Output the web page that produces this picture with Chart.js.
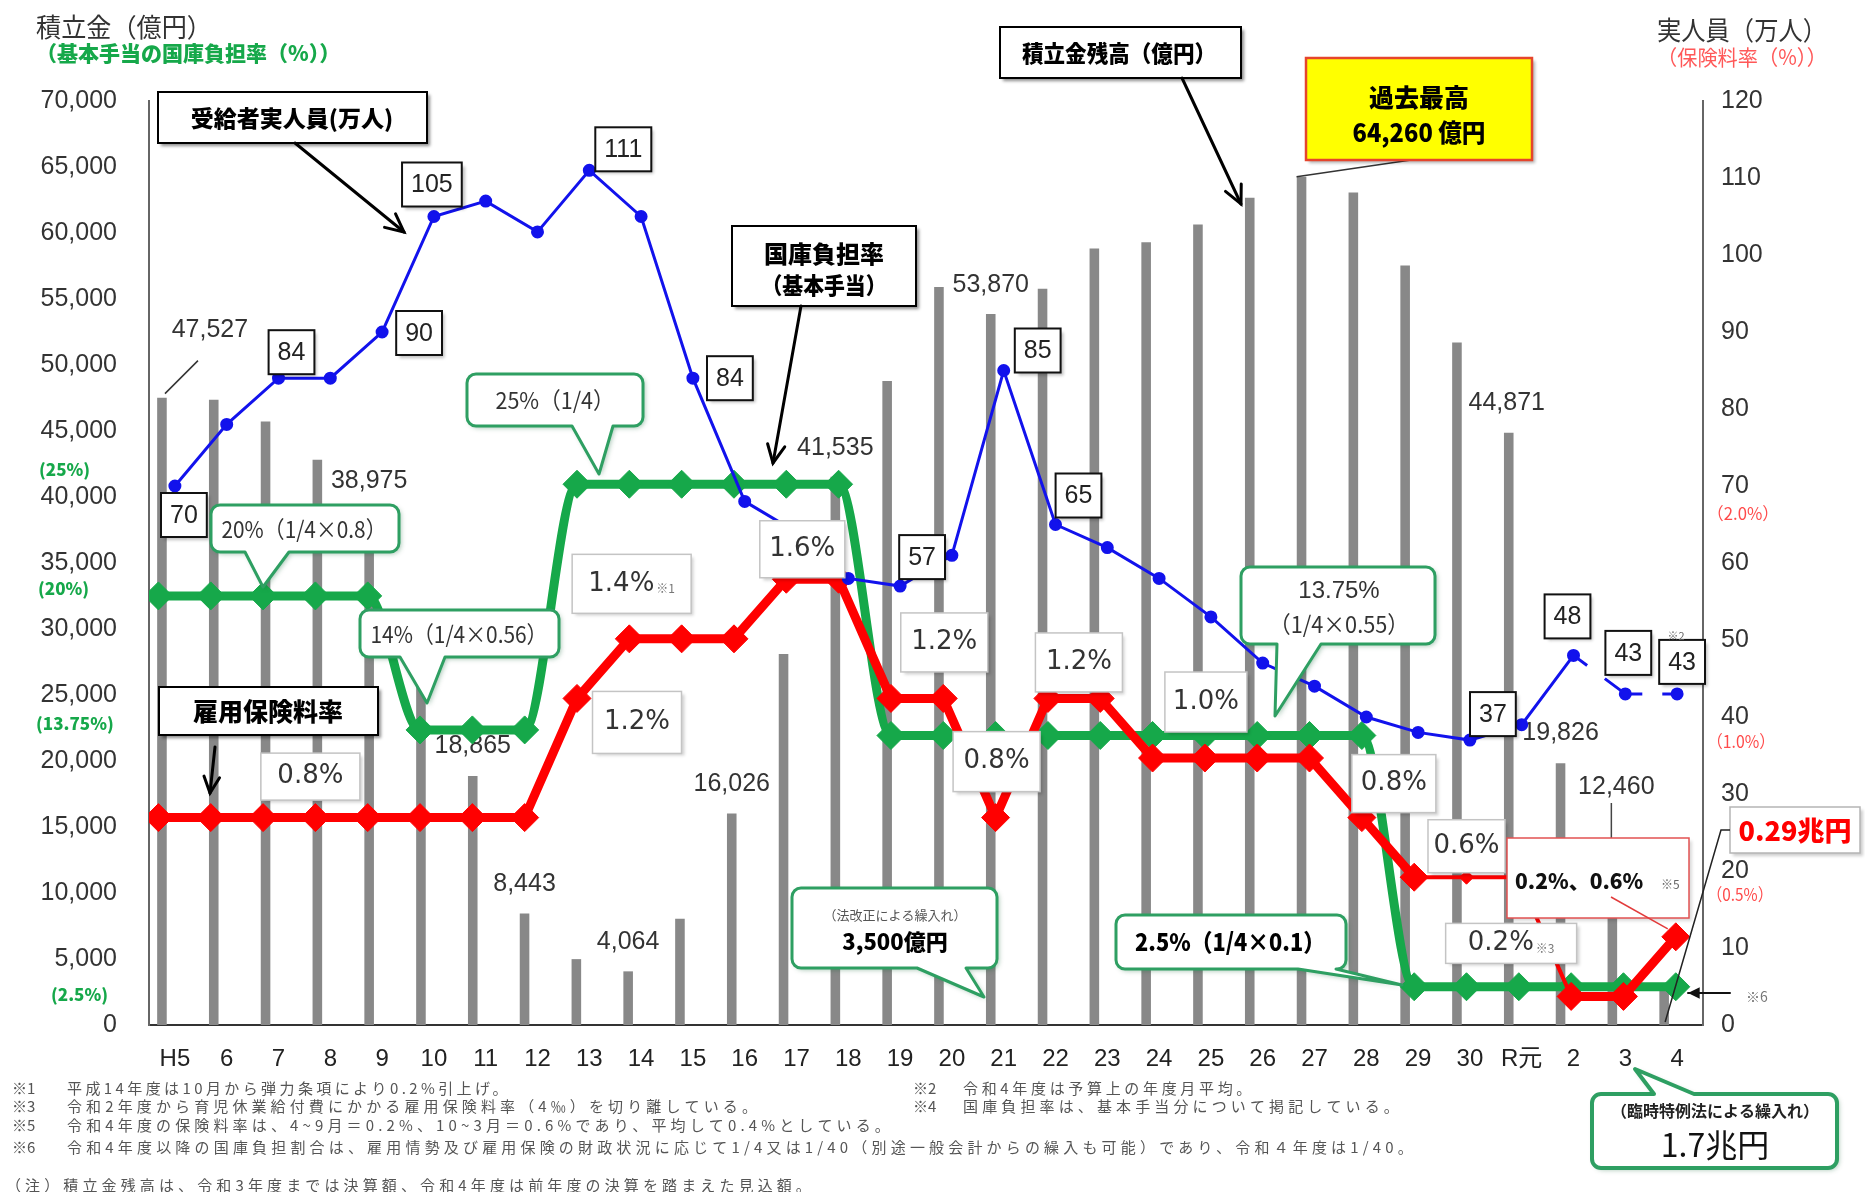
<!DOCTYPE html>
<html lang="ja">
<head>
<meta charset="utf-8">
<title>雇用保険の積立金残高・受給者実人員・保険料率・国庫負担率の推移</title>
<script src="https://cdn.jsdelivr.net/npm/chart.js@4.4.1/dist/chart.umd.min.js"></script>
<style>
  html, body { margin: 0; padding: 0; background: #fff; }
  canvas { display: block; }
</style>
</head>
<body>
<canvas id="chart" width="1865" height="1192"></canvas>
<script>
// === 年度 ===
const years = ['H5', '6', '7', '8', '9', '10', '11', '12', '13', '14', '15', '16', '17', '18', '19',
  '20', '21', '22', '23', '24', '25', '26', '27', '28', '29', '30', 'R元', '2', '3', '4'];

// 積立金残高（億円）
const reserve = [47527, 47360, 45720, 42820, 38975, 28900, 18865, 8443, 4990, 4064, 8050, 16026, 28100, 41535,
  48790, 55900, 53870, 55770, 58830, 59290, 60640, 62670, 64260, 63070, 57530, 51710, 44871, 19826, 12460, 2900];

// 受給者実人員（万人）
const recipients = [70, 78, 84, 84, 90, 105, 107, 103, 111, 105, 84, 68, 64, 58, 57, 61, 85, 65, 62, 58,
  53, 47, 44, 40, 38, 37, 39, 48, 43, 43];

// 雇用保険料率（%）
const premiumRate = [0.8, 0.8, 0.8, 0.8, 0.8, 0.8, 0.8, 0.8, 1.2, 1.4, 1.4, 1.4, 1.6, 1.6, 1.2, 1.2, 0.8,
  1.2, 1.2, 1.0, 1.0, 1.0, 1.0, 0.8, 0.6, 0.6, 0.6, 0.2, 0.2, 0.4];

// 基本手当の国庫負担率（%）
const subsidyRate = [20, 20, 20, 20, 20, 14, 14, 14, 25, 25, 25, 25, 25, 25, 13.75, 13.75, 13.75, 13.75,
  13.75, 13.75, 13.75, 13.75, 13.75, 13.75, 2.5, 2.5, 2.5, 2.5, 2.5, 2.5];

// 軸の範囲
const reserveMax = 70000, reserveStep = 5000;
const peopleMax = 120, peopleStep = 10;

const GREEN = '#16a84a';
const CALLOUT = '#2e9f62';
const RED = '#ff0000';
const BLUE = '#1212ec';
const JP = '"Noto Sans CJK JP", "Noto Sans", sans-serif';
const LAT = '"Liberation Sans", "Noto Sans CJK JP", sans-serif';
const DV = '"DejaVu Sans", "Noto Sans CJK JP", sans-serif';

Chart.defaults.font.family = LAT;

// 保険料率の細線区間と小さいマーカー
const thinPremium = [24, 25, 26];
const smallPremium = [25, 26];

// --- 描画ヘルパー ---
function txt(ctx, s, x, y, font, color, align, maxW) {
  ctx.font = font;
  ctx.fillStyle = color;
  ctx.textAlign = align || 'center';
  ctx.textBaseline = 'middle';
  if (maxW) ctx.fillText(s, x, y, maxW); else ctx.fillText(s, x, y);
}

// 文字間を広げて指定幅に収める
function spread(ctx, s, x, y, font, color, width) {
  ctx.save();
  ctx.font = font;
  ctx.letterSpacing = '0px';
  const w0 = ctx.measureText(s).width;
  const ls = (width - w0) / s.length;
  ctx.fillStyle = color;
  ctx.textAlign = 'left';
  ctx.textBaseline = 'middle';
  if (ls >= 0) {
    ctx.letterSpacing = ls + 'px';
    ctx.fillText(s, x, y);
  } else {
    ctx.fillText(s, x, y, width);
  }
  ctx.restore();
}

function box(ctx, x, y, w, h, o) {
  ctx.save();
  if (o.shadow) {
    ctx.shadowColor = o.shadow;
    ctx.shadowBlur = 3;
    ctx.shadowOffsetX = 3;
    ctx.shadowOffsetY = 3;
  }
  ctx.fillStyle = o.fill || '#fff';
  ctx.fillRect(x, y, w, h);
  ctx.shadowColor = 'transparent';
  ctx.lineWidth = o.lw || 2;
  ctx.strokeStyle = o.stroke || '#000';
  ctx.strokeRect(x, y, w, h);
  ctx.restore();
}

function bubblePath(ctx, x, y, w, h, r, t) {
  ctx.beginPath();
  ctx.moveTo(x + r, y);
  if (t && t.side === 'top') { ctx.lineTo(t.a, y); ctx.lineTo(t.tx, t.ty); ctx.lineTo(t.b, y); }
  ctx.lineTo(x + w - r, y);
  ctx.arcTo(x + w, y, x + w, y + r, r);
  ctx.lineTo(x + w, y + h - r);
  ctx.arcTo(x + w, y + h, x + w - r, y + h, r);
  if (t && t.side === 'bottom') { ctx.lineTo(t.b, y + h); ctx.lineTo(t.tx, t.ty); ctx.lineTo(t.a, y + h); }
  ctx.lineTo(x + r, y + h);
  ctx.arcTo(x, y + h, x, y + h - r, r);
  ctx.lineTo(x, y + r);
  ctx.arcTo(x, y, x + r, y, r);
  ctx.closePath();
}

function callout(ctx, c) {
  ctx.save();
  bubblePath(ctx, c.x, c.y, c.w, c.h, 9, c.tail);
  ctx.shadowColor = 'rgba(0, 90, 40, 0.35)';
  ctx.shadowBlur = 5;
  ctx.shadowOffsetX = 2;
  ctx.shadowOffsetY = 2;
  ctx.fillStyle = '#fff';
  ctx.fill();
  ctx.shadowColor = 'transparent';
  ctx.lineWidth = c.lw || 3;
  ctx.lineJoin = 'round';
  ctx.strokeStyle = CALLOUT;
  ctx.stroke();
  ctx.restore();
}

function arrow(ctx, x1, y1, x2, y2, lw, head, color, filled) {
  ctx.save();
  ctx.strokeStyle = color || '#000';
  ctx.fillStyle = color || '#000';
  ctx.lineWidth = lw;
  ctx.lineCap = 'round';
  ctx.beginPath();
  ctx.moveTo(x1, y1);
  ctx.lineTo(x2, y2);
  ctx.stroke();
  if (head) {
    const a = Math.atan2(y2 - y1, x2 - x1);
    ctx.beginPath();
    ctx.moveTo(x2 - head * Math.cos(a - 0.45), y2 - head * Math.sin(a - 0.45));
    ctx.lineTo(x2, y2);
    ctx.lineTo(x2 - head * Math.cos(a + 0.45), y2 - head * Math.sin(a + 0.45));
    if (filled) { ctx.closePath(); ctx.fill(); } else ctx.stroke();
  }
  ctx.restore();
}

function line(ctx, pts, lw, color) {
  ctx.save();
  ctx.strokeStyle = color;
  ctx.lineWidth = lw;
  ctx.beginPath();
  pts.forEach((p, k) => k ? ctx.lineTo(p[0], p[1]) : ctx.moveTo(p[0], p[1]));
  ctx.stroke();
  ctx.restore();
}

// --- ラベル配置 ---
const reserveLabels = [
  { i: 4 }, { i: 6, dy: -30 }, { i: 7 }, { i: 9 }, { i: 11 }, { i: 13 }, { i: 16 },
  { i: 26, dx: -2, dy: -30 }, { i: 27, dy: -30 }
];

const recipientBoxes = [
  { i: 0, dx: 9, dy: 29 }, { i: 2, dx: 13, dy: -26 }, { i: 4, dx: 37, dy: 1 },
  { i: 5, dx: -2, dy: -32 }, { i: 8, dx: 34, dy: -21 }, { i: 10, dx: 37, dy: 0 },
  { i: 14, dx: 22, dy: -29 }, { i: 16, dx: 34, dy: -20 }, { i: 17, dx: 23, dy: -29 },
  { i: 25, dx: 23, dy: -26 }, { i: 27, dx: -6, dy: -39 }, { i: 28, dx: 3, dy: -41 },
  { i: 29, dx: 5, dy: -32, note: '※2' }
];

const premiumBoxes = [
  { i: 3, dx: -5, dy: -41, w: 99, h: 47 },
  { i: 8, dx: 60, dy: 24, w: 89, h: 62 },
  { i: 10, dx: -50, dy: -55, w: 119, h: 59, note: '※1' },
  { i: 12, dx: 16, dy: -30, w: 85, h: 57 },
  { i: 15, dx: 1, dy: -56, w: 87, h: 59 },
  { i: 16, dx: 1, dy: -56, w: 87, h: 60 },
  { i: 17, dx: 31, dy: -36, w: 87, h: 59 },
  { i: 20, dx: 1, dy: -56, w: 82, h: 60 },
  { i: 23, dx: 32, dy: -34, w: 84, h: 58 },
  { i: 25, dx: 0, dy: -31, w: 77, h: 53 },
  { i: 27, dx: -60, dy: -53, w: 131, h: 40, note: '※3' }
];

function drawReserveLabels(chart) {
  const ctx = chart.ctx;
  const bars = chart.getDatasetMeta(0).data;
  const font = '25px ' + LAT;
  reserveLabels.forEach(({ i, dx = 0, dy = -29 }) => {
    const b = bars[i];
    txt(ctx, reserve[i].toLocaleString('en-US'), b.x + dx, b.y + dy, font, '#333');
  });
  // 平成5年度（引出線付き）
  const b0 = bars[0];
  txt(ctx, reserve[0].toLocaleString('en-US'), b0.x + 48, b0.y - 68, font, '#333');
  line(ctx, [[b0.x + 3, b0.y - 4], [b0.x + 36, b0.y - 37]], 1.5, '#333');
  // 令和3年度（引出線付き）
  const b3 = bars[28];
  txt(ctx, reserve[28].toLocaleString('en-US'), b3.x + 4, 787, font, '#333');
  line(ctx, [[b3.x - 1, 803], [b3.x - 1, 838]], 1.5, '#444');
}

function drawCallouts(chart) {
  const ctx = chart.ctx;
  const people = chart.getDatasetMeta(3).data;
  const premium = chart.getDatasetMeta(2).data;
  const bars = chart.getDatasetMeta(0).data;

  // 保険料率の値
  premiumBoxes.forEach(({ i, dx, dy, w, h, note }) => {
    const p = premium[i];
    const cx = p.x + dx, cy = p.y + dy;
    box(ctx, cx - w / 2, cy - h / 2, w, h, { stroke: '#c4c4c4', lw: 1.5, shadow: 'rgba(0,0,0,0.18)' });
    const s = premiumRate[i].toFixed(1) + '%';
    ctx.font = '26px ' + DV;
    const tw = ctx.measureText(s).width;
    if (note) {
      ctx.font = '12px ' + JP;
      const nw = ctx.measureText(note).width;
      const x0 = cx - (tw + nw + 2) / 2;
      txt(ctx, s, x0, cy, '26px ' + DV, '#333', 'left');
      txt(ctx, note, x0 + tw + 2, cy + 5, '12px ' + JP, '#777', 'left');
    } else {
      txt(ctx, s, cx, cy, '26px ' + DV, '#333');
    }
  });

  // 受給者実人員の値
  recipientBoxes.forEach(({ i, dx, dy, note }) => {
    const p = people[i];
    const s = String(recipients[i]);
    ctx.font = '25px ' + LAT;
    const w = ctx.measureText(s).width + 18, h = 44;
    const cx = p.x + dx, cy = p.y + dy;
    box(ctx, cx - w / 2, cy - h / 2, w, h, { stroke: '#111', lw: 2, shadow: 'rgba(0,0,0,0.25)' });
    txt(ctx, s, cx, cy + 1, '25px ' + LAT, '#222');
    if (note) txt(ctx, note, cx - 6, cy - h / 2 - 4, '11px ' + JP, '#666');
  });

  // 見出しボックスと矢印
  box(ctx, 158, 92, 269, 51, { shadow: 'rgba(0,0,0,0.45)' });
  txt(ctx, '受給者実人員(万人)', 292, 118, '900 23px ' + JP, '#000', 'center', 222);
  arrow(ctx, 295, 143, 404, 232, 3, 20);

  box(ctx, 1000, 27, 241, 51, { shadow: 'rgba(0,0,0,0.45)' });
  txt(ctx, '積立金残高（億円）', 1119, 53, '900 23px ' + JP, '#000', 'center', 194);
  arrow(ctx, 1182, 78, 1241, 204, 3, 20);

  box(ctx, 732, 226, 184, 80, { shadow: 'rgba(0,0,0,0.45)' });
  txt(ctx, '国庫負担率', 824, 254, '900 24px ' + JP, '#000', 'center', 125);
  txt(ctx, '（基本手当）', 824, 285, '900 23px ' + JP, '#000', 'center', 125);
  arrow(ctx, 801, 306, 773, 463, 3, 20);

  box(ctx, 159, 687, 219, 48, { shadow: 'rgba(0,0,0,0.45)' });
  txt(ctx, '雇用保険料率', 268, 711, '900 25px ' + JP, '#000', 'center', 152);
  arrow(ctx, 215, 747, 210, 793, 3, 18);

  // 過去最高
  const peak = bars[22];
  line(ctx, [[peak.x - 5, peak.y], [1411, 160]], 1.5, '#333');
  box(ctx, 1306, 58, 226, 102, { fill: '#ffff00', stroke: '#e5452c', lw: 2.5, shadow: 'rgba(0,0,0,0.3)' });
  txt(ctx, '過去最高', 1419, 97, '900 25px ' + JP, '#000', 'center', 106);
  txt(ctx, reserve[22].toLocaleString('en-US') + ' 億円', 1419, 132, '900 25px ' + JP, '#000', 'center', 133);

  // 国庫負担率の吹き出し
  callout(ctx, { x: 467, y: 374, w: 176, h: 52, tail: { side: 'bottom', a: 572, b: 613, tx: 599, ty: 474 } });
  txt(ctx, '25%（1/4）', 555, 400, '23px ' + JP, '#333', 'center', 119);

  callout(ctx, { x: 211, y: 505, w: 188, h: 47, tail: { side: 'bottom', a: 245, b: 289, tx: 263, ty: 587 } });
  txt(ctx, '20%（1/4×0.8）', 304, 529, '23px ' + JP, '#333', 'center', 165);

  callout(ctx, { x: 360, y: 610, w: 199, h: 47, tail: { side: 'bottom', a: 400, b: 445, tx: 427, ty: 703 } });
  txt(ctx, '14%（1/4×0.56）', 459, 634, '23px ' + JP, '#333', 'center', 177);

  callout(ctx, { x: 1241, y: 567, w: 194, h: 77, tail: { side: 'bottom', a: 1277, b: 1321, tx: 1275, ty: 716 } });
  txt(ctx, '13.75%', 1339, 591, '24px ' + LAT, '#333');
  txt(ctx, '（1/4×0.55）', 1339, 624, '23px ' + JP, '#333', 'center', 140);

  callout(ctx, { x: 792, y: 888, w: 205, h: 80, tail: { side: 'bottom', a: 917, b: 966, tx: 984, ty: 997 } });
  txt(ctx, '（法改正による繰入れ）', 895, 915, '13px ' + JP, '#555', 'center', 164);
  txt(ctx, '3,500億円', 895, 942, '900 22px ' + JP, '#000', 'center', 106);

  callout(ctx, { x: 1116, y: 915, w: 230, h: 54, tail: { side: 'bottom', a: 1298, b: 1336, tx: 1402, ty: 985 } });
  txt(ctx, '2.5%（1/4×0.1）', 1230, 942, '900 24px ' + JP, '#000', 'center', 190);

  callout(ctx, { x: 1592, y: 1094, w: 245, h: 74, lw: 4, tail: { side: 'top', a: 1654, b: 1694, tx: 1635, ty: 1069 } });
  txt(ctx, '（臨時特例法による繰入れ）', 1715, 1111, '700 16px ' + JP, '#222', 'center', 228);
  txt(ctx, '1.7兆円', 1715, 1145, '32px ' + JP, '#111', 'center', 122);

  // 令和4年度の保険料率
  box(ctx, 1507, 838, 182, 80, { stroke: '#e25252', lw: 1.5, shadow: 'rgba(0,0,0,0.15)' });
  txt(ctx, '0.2%、0.6%', 1515, 881, '900 21px ' + JP, '#111', 'left', 144);
  txt(ctx, '※5', 1661, 884, '12px ' + JP, '#666', 'left');
  const r4 = premium[29];
  line(ctx, [[1611, 897], [r4.x - 8, r4.y - 8]], 1.5, '#e23b3b');

  // 0.29兆円
  box(ctx, 1730, 807, 130, 46, { stroke: '#b5b5b5', lw: 1.5, shadow: 'rgba(0,0,0,0.2)' });
  txt(ctx, '0.29兆円', 1795, 831, '900 27px ' + JP, '#ff0000', 'center', 113);
  const b4 = bars[29];
  line(ctx, [[1730, 830], [1721, 830], [b4.x + 1, 1022]], 1.5, '#222');

  // ※6
  arrow(ctx, 1730, 993, 1688, 993, 2, 13, '#111', true);
  txt(ctx, '※6', 1757, 997, '14px ' + JP, '#777');
}

function drawHeadings(chart) {
  const ctx = chart.ctx;
  txt(ctx, '積立金（億円）', 36, 27, '26px ' + JP, '#333', 'left', 176);
  txt(ctx, '（基本手当の国庫負担率（%））', 36, 53, '900 21px ' + JP, GREEN, 'left', 312);
  txt(ctx, '実人員（万人）', 1657, 30, '26px ' + JP, '#333', 'left', 170);
  txt(ctx, '（保険料率（%））', 1657, 57, '21px ' + JP, '#ff5858', 'left', 170);

  // 国庫負担率の目安（左軸）
  const g = '900 17px ' + JP;
  txt(ctx, '(25%)', 39, 470, g, GREEN, 'left', 64);
  txt(ctx, '(20%)', 38, 589, g, GREEN, 'left', 62);
  txt(ctx, '(13.75%)', 36, 724, g, GREEN, 'left', 89);
  txt(ctx, '(2.5%)', 51, 995, g, GREEN, 'left', 68);

  // 保険料率の目安（右軸）
  const r = '17px ' + JP;
  txt(ctx, '（2.0%）', 1707, 514, r, '#ff4b4b', 'left', 72);
  txt(ctx, '（1.0%）', 1707, 742, r, '#ff4b4b', 'left', 68);
  txt(ctx, '（0.5%）', 1707, 895, r, '#ff4b4b', 'left', 66);
}

function drawFootnotes(chart) {
  const ctx = chart.ctx;
  const f = '15px ' + JP, c = '#555';
  const notes = [
    ['※1', '平成14年度は10月から弾力条項により0.2%引上げ。', 12, 67, 1088, 444],
    ['※3', '令和2年度から育児休業給付費にかかる雇用保険料率（4‰）を切り離している。', 12, 67, 1106, 694],
    ['※5', '令和4年度の保険料率は、4~9月＝0.2%、10~3月＝0.6%であり、平均して0.4%としている。', 12, 67, 1125, 827],
    ['※6', '令和4年度以降の国庫負担割合は、雇用情勢及び雇用保険の財政状況に応じて1/4又は1/40（別途一般会計からの繰入も可能）であり、令和４年度は1/40。', 12, 67, 1147, 1350],
    ['※2', '令和4年度は予算上の年度月平均。', 913, 963, 1088, 292],
    ['※4', '国庫負担率は、基本手当分について掲記している。', 913, 963, 1106, 440]
  ];
  notes.forEach(([mark, body, mx, bx, y, w]) => {
    txt(ctx, mark, mx, y, f, c, 'left');
    spread(ctx, body, bx, y, f, c, w);
  });
  spread(ctx, '（注）積立金残高は、令和3年度までは決算額、令和4年度は前年度の決算を踏まえた見込額。', 6, 1185, f, c, 809);
}

const notesPlugin = {
  id: 'notes',
  afterDatasetDraw(chart, args) {
    if (args.index === 0) drawReserveLabels(chart);
  },
  afterDatasetsDraw(chart) {
    drawCallouts(chart);
  },
  afterDraw(chart) {
    drawHeadings(chart);
    drawFootnotes(chart);
  }
};

new Chart(document.getElementById('chart'), {
  type: 'bar',
  data: {
    labels: years,
    datasets: [
      {
        type: 'bar',
        label: '積立金残高（億円）',
        data: reserve,
        xAxisID: 'x',
        yAxisID: 'y',
        backgroundColor: '#888888',
        barPercentage: 0.37,
        categoryPercentage: 1,
        order: 4
      },
      {
        type: 'line',
        label: '国庫負担率（基本手当）',
        data: subsidyRate.map((v, i) => ({ x: i, y: v })),
        xAxisID: 'xl',
        yAxisID: 'ySubsidy',
        borderColor: GREEN,
        backgroundColor: GREEN,
        borderWidth: 9,
        cubicInterpolationMode: 'monotone',
        pointStyle: 'rectRot',
        pointRadius: 14,
        pointBorderWidth: 1,
        order: 3
      },
      {
        type: 'line',
        label: '雇用保険料率',
        data: premiumRate.map((v, i) => ({ x: i, y: v })),
        xAxisID: 'xl',
        yAxisID: 'yPremium',
        borderColor: RED,
        backgroundColor: RED,
        borderWidth: 9,
        segment: {
          borderWidth: c => thinPremium.includes(c.p0DataIndex) ? 4 : 9
        },
        pointStyle: 'rectRot',
        pointRadius: c => smallPremium.includes(c.dataIndex) ? 7 : 14,
        pointBorderWidth: 1,
        order: 2
      },
      {
        type: 'line',
        label: '受給者実人員（万人）',
        data: recipients,
        xAxisID: 'x',
        yAxisID: 'yPeople',
        borderColor: BLUE,
        backgroundColor: BLUE,
        borderWidth: 3,
        pointRadius: 5,
        segment: {
          borderDash: c => c.p0DataIndex === 27 ? [17, 22, 40, 0] : (c.p0DataIndex === 28 ? [17, 20, 30, 0] : undefined)
        },
        order: 1
      }
    ]
  },
  options: {
    responsive: false,
    devicePixelRatio: 1,
    animation: false,
    layout: { padding: { top: 101, left: 0, right: 0, bottom: 0 } },
    plugins: {
      legend: { display: false },
      tooltip: { enabled: false }
    },
    scales: {
      x: {
        type: 'category',
        offset: true,
        grid: { display: false, drawTicks: false },
        border: { display: true, color: '#333', width: 2 },
        ticks: { color: '#222', font: { size: 24 }, padding: 20, maxRotation: 0, autoSkip: false },
        afterFit: s => { s.height = 167; }
      },
      xl: {
        type: 'linear',
        display: false,
        offset: false,
        grid: { offset: false },
        bounds: 'ticks',
        min: -0.18,
        max: 29.52
      },
      y: {
        position: 'left',
        min: 0,
        max: reserveMax,
        grid: { display: false, drawTicks: false },
        border: { display: true, color: '#666', width: 2 },
        ticks: {
          stepSize: reserveStep,
          color: '#333',
          font: { size: 25 },
          padding: 32,
          callback: v => v.toLocaleString('en-US')
        },
        afterFit: s => { s.width = 149; }
      },
      yPeople: {
        position: 'right',
        min: 0,
        max: peopleMax,
        grid: { display: false, drawTicks: false },
        border: { display: true, color: '#666', width: 2 },
        ticks: { stepSize: peopleStep, color: '#333', font: { size: 25 }, padding: 18 },
        afterFit: s => { s.width = 162; }
      },
      ySubsidy: { display: false, min: 0.787, max: 42.16 },
      yPremium: { display: false, min: 0.104, max: 3.205 }
    }
  },
  plugins: [notesPlugin]
});
</script>
</body>
</html>
